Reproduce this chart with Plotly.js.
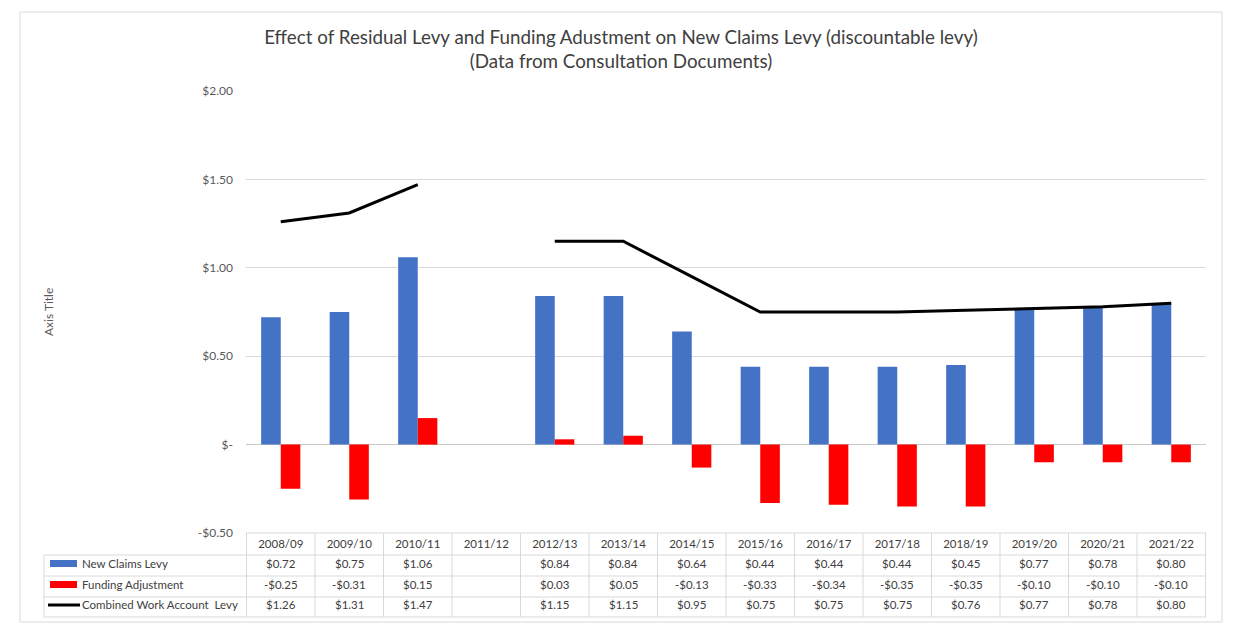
<!DOCTYPE html>
<html>
<head>
<meta charset="utf-8">
<script src="https://cdn.plot.ly/plotly-3.0.1.min.js"></script>
<style>html,body{margin:0;padding:0;background:#fff;}#chart{width:1248px;height:640px;}</style>
</head>
<body>
<div id="chart"></div>
<script>
// Chart data
const years = ["2008/09","2009/10","2010/11","2011/12","2012/13","2013/14","2014/15","2015/16","2016/17","2017/18","2018/19","2019/20","2020/21","2021/22"];
const new_claims_levy = [0.72,0.75,1.06,null,0.84,0.84,0.64,0.44,0.44,0.44,0.45,0.77,0.78,0.80];
const funding_adjustment = [-0.25,-0.31,0.15,null,0.03,0.05,-0.13,-0.33,-0.34,-0.35,-0.35,-0.10,-0.10,-0.10];
const combined_levy = [1.26,1.31,1.47,null,1.15,1.15,0.95,0.75,0.75,0.75,0.76,0.77,0.78,0.80];
const series_names = ["New Claims Levy","Funding Adjustment","Combined Work Account  Levy"];
const y_tickvals = [2,1.5,1,0.5,0,-0.5];
const y_ticktext = ["$2.00","$1.50","$1.00","$0.50","$-","-$0.50"];

const FONT = "Lato, 'Liberation Sans', sans-serif";
const TXT = "#404040";
const GRID = "#d9d9d9";

// plot area in px: x 246..1206, y 91..533
const L = 246, R = 1206, T = 91, B = 533;
const px2x = p => (p - L) / (R - L);
const px2y = p => (B - p) / (B - T);

function fmt(v) {if (v === null) return ""; return (v < 0 ? "-$" : "$") + Math.abs(v).toFixed(2);}

const traces = [
    {type:"bar", x:years, y:new_claims_levy, name:series_names[0], marker:{color:"#4472C4"}, hoverinfo:"y"},
    {type:"bar", x:years, y:funding_adjustment, name:series_names[1], marker:{color:"#FF0000"}, hoverinfo:"y"},
    {type:"scatter", mode:"lines", x:years, y:combined_levy, name:series_names[2], line:{color:"#000", width:3}, connectgaps:false}];

// table rows under the plot (header row holds the x tick labels)
const row_lines = [533, 555, 576, 597, 617];
const row_centers = [565, 586, 606.5];
const row_values = [new_claims_levy, funding_adjustment, combined_levy];

const shapes = [];
const annotations = [];
// outer chart border
shapes.push({type:"rect", xref:"paper", yref:"paper", x0:px2x(20), x1:px2x(1222), y0:px2y(622), y1:px2y(12), line:{color:"#d9d9d9", width:1}});
// horizontal table lines
row_lines.forEach((r, i) => {
    shapes.push({type:"line", xref:"paper", yref:"paper", x0:px2x(i === 0 ? L : 44), x1:1, y0:px2y(r), y1:px2y(r), line:{color:GRID, width:1}});});
// vertical table lines at category boundaries
for (let i = 0; i <= years.length; i++) {
    shapes.push({type:"line", xref:"x", yref:"paper", x0:i - 0.5, x1:i - 0.5, y0:px2y(617), y1:px2y(533), line:{color:GRID, width:1}});}
shapes.push({type:"line", xref:"paper", yref:"paper", x0:px2x(44), x1:px2x(44), y0:px2y(617), y1:px2y(555), line:{color:GRID, width:1}});

// legend keys in label column
shapes.push({type:"rect", xref:"paper", yref:"paper", x0:px2x(50), x1:px2x(77), y0:px2y(567), y1:px2y(560), fillcolor:"#4472C4", line:{width:0}});
shapes.push({type:"rect", xref:"paper", yref:"paper", x0:px2x(50), x1:px2x(77), y0:px2y(588), y1:px2y(581), fillcolor:"#FF0000", line:{width:0}});
shapes.push({type:"line", xref:"paper", yref:"paper", x0:px2x(48), x1:px2x(80), y0:px2y(605), y1:px2y(605), line:{color:"#000", width:3}});

series_names.forEach((n, r) => {
    annotations.push({xref:"paper", yref:"paper", x:px2x(80), y:px2y(row_centers[r] - 2), xanchor:"left", yanchor:"middle", text:n, showarrow:false, font:{family:FONT, size:11.5, color:TXT}});
    years.forEach((yr, i) => {
        annotations.push({xref:"x", yref:"paper", x:yr, y:px2y(row_centers[r] - 2), xanchor:"center", yanchor:"middle", text:fmt(row_values[r][i]), showarrow:false, font:{family:FONT, size:11.5, color:TXT}});});});

// axis title
annotations.push({xref:"paper", yref:"paper", x:px2x(48), y:0.5, text:"Axis Title", textangle:-90, showarrow:false, xanchor:"center", yanchor:"middle", font:{family:FONT, size:12, color:"#595959"}});

const layout = {
    width:1248, height:640,
    margin:{l:L, r:1248 - R, t:T, b:640 - B, pad:0},
    paper_bgcolor:"#fff", plot_bgcolor:"#fff",
    title:{text:"Effect of Residual Levy and Funding Adustment on New Claims Levy (discountable levy)<br>(Data from Consultation Documents)",
        xref:"container", x:621 / 1248, xanchor:"center", yref:"container", y:1 - 44 / 640, yanchor:"top",
        font:{family:FONT, size:18.8, color:TXT}},
    showlegend:false,
    barmode:"group", bargap:0.428, bargroupgap:0,
    xaxis:{type:"category", showgrid:false, zeroline:false, showline:false, ticks:"", tickfont:{family:FONT, size:11.5, color:TXT}, ticklabelstandoff:2, fixedrange:true},
    yaxis:{range:[-0.5, 2], tickvals:y_tickvals, ticktext:y_ticktext, showgrid:true, gridcolor:GRID, gridwidth:1, zeroline:true, zerolinecolor:"#c8c8c8", zerolinewidth:1.5, showline:false, tickfont:{family:FONT, size:12, color:"#595959"}, ticklabelstandoff:12, fixedrange:true},
    shapes:shapes, annotations:annotations,
    font:{family:FONT, color:TXT}};

Plotly.newPlot("chart", traces, layout, {displayModeBar:false, staticPlot:true});
</script>
</body>
</html>
